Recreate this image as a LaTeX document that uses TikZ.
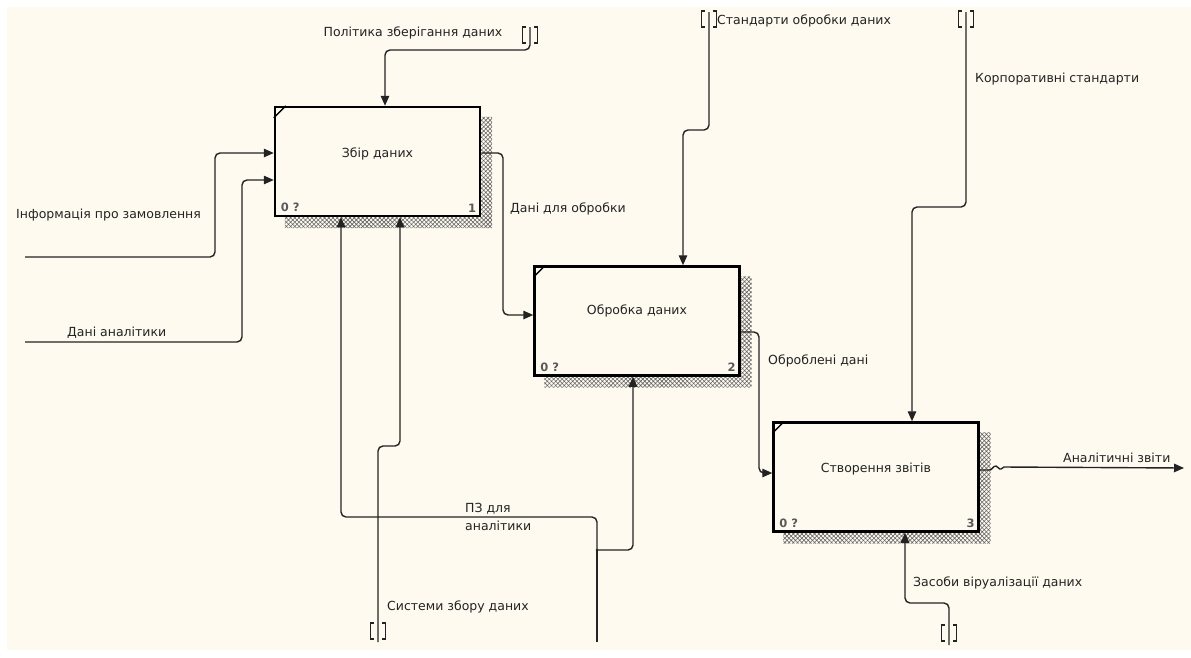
\documentclass[tikz,border=0pt]{standalone}
\usepackage{fontspec}
\setmainfont{DejaVu Sans}
\usetikzlibrary{arrows.meta,patterns.meta}
\definecolor{paper}{RGB}{254,250,240}
\definecolor{ink}{RGB}{35,35,35}

% hatched drop shadow to the right of and below an activity box
\newcommand\boxshadow[1]{%
  \fill[pattern={Hatch[angle=45,distance=3pt,line width=0.6pt]},pattern color=black!60]
    ([yshift=-10pt]#1.north east) -- ++(12pt,0)
    |- ([xshift=10pt,yshift=-12pt]#1.south west) -- ++(0,12pt)
    -- (#1.south east) -- cycle;}
% corner tick in the upper left of an activity box
\newcommand\boxtick[1]{%
  \draw[line width=1.4pt] ([yshift=-12pt]#1.north west) -- ([xshift=12pt]#1.north west);}
% tunnel brackets round an arrow end
\newcommand\tunnel[1]{%
  \draw[tun] ([xshift=-4pt,yshift=8pt]#1) -- ++(-3.5pt,0) -- ++(0,-16pt) -- ++(3.5pt,0);
  \draw[tun] ([xshift=4pt,yshift=8pt]#1) -- ++(3.5pt,0) -- ++(0,-16pt) -- ++(-3.5pt,0);}

\begin{document}
\begin{tikzpicture}[x=1pt,y=-1pt,
  every node/.style={font=\fontsize{12.5}{15}\selectfont,text=ink,inner sep=0pt},
  box/.style={draw=black,line width=2.5pt,fill=paper,minimum width=205pt,minimum height=109pt},
  conn/.style={draw=ink,line width=1.4pt,rounded corners=5pt},
  arr/.style={conn,-{Triangle[length=10pt,width=8.5pt]}},
  tun/.style={draw=ink,line width=1.1pt},
  num/.style={font=\fontsize{11.5}{13}\bfseries\selectfont,text=black!65},
  lbl/.style={anchor=west}]

% page
\useasboundingbox (0,0) rectangle (1191,657);
\fill[white] (0,0) rectangle (1191,657);
\fill[paper] (7,7) rectangle (1191,650);

% activity boxes
\coordinate (p1) at (377.5,161.5);
\coordinate (p2) at (637,321);
\coordinate (p3) at (876,477);
\path (p1) node[minimum width=205pt,minimum height=109pt] (s1) {};
\path (p2) node[minimum width=205pt,minimum height=109pt] (s2) {};
\path (p3) node[minimum width=205pt,minimum height=109pt] (s3) {};
\boxshadow{s1}\boxshadow{s2}\boxshadow{s3}
\node[box] (b1) at (p1) {};
\node[box] (b2) at (p2) {};
\node[box] (b3) at (p3) {};
\boxtick{b1}\boxtick{b2}\boxtick{b3}

\node (n1) at ([yshift=8pt]b1.center) {Збір даних};
\node (n2) at ([yshift=10pt]b2.center) {Обробка даних};
\node (n3) at ([yshift=8pt]b3.center) {Створення звітів};

\foreach \b/\k in {b1/1,b2/2,b3/3}{
  \node[num,anchor=south west] (\b q) at ([xshift=7pt,yshift=5pt]\b.south west) {0 ?};
  \node[num,anchor=south east] (\b k) at ([xshift=-5pt,yshift=5pt]\b.south east) {\k};
}

% free arrow ends and tunnels
\coordinate (in1) at (25,257);
\coordinate (in2) at (25,342);
\coordinate (c1) at (530,27);   \coordinate (t1) at (530,35);
\coordinate (c2) at (709,12);   \coordinate (t2) at (709,19);
\coordinate (c3) at (966,12);   \coordinate (t3) at (966,19);
\coordinate (m1) at (378,642);  \coordinate (t4) at (378,631);
\coordinate (m2) at (597,642);
\coordinate (m3) at (949,645);  \coordinate (t5) at (949,633);
\coordinate (o3) at (1184,468);
\coordinate (j) at (597,550);

% inputs and outputs between boxes
\draw[arr] (in1) -- (215,257) -- (215,153) -- (b1.west |- 0,153);
\draw[arr] (in2) -- (242,342) -- (242,180) -- (b1.west |- 0,180);
\draw[arr] (b1.east |- 0,153) -- (503,153) -- (503,315) -- (b2.west |- 0,315);
\draw[arr] (b2.east |- 0,332) -- (759,332) -- (759,473) -- (b3.west |- 0,473);

% controls
\draw[arr] (c1) -- (530,50) -- (385,50) -- (b1.north -| 385,0);
\draw[arr] (c2) -- (709,130) -- (683,130) -- (b2.north -| 683,0);
\draw[arr] (c3) -- (966,207) -- (912,207) -- (b3.north -| 912,0);

% mechanisms
\draw[arr] (m1) -- (378,446) -- (400,446) -- (b1.south -| 400,0);
\draw[conn] (m2) -- (j);
\draw[arr] (j) -- (597,517) -- (341,517) -- (b1.south -| 341,0);
\draw[arr] (j) -- (633,550) -- (b2.south -| 633,0);
\fill[ink] (j) circle (1.4pt);
\draw[arr] (m3) -- (949,603) -- (905,603) -- (b3.south -| 905,0);

% final output, with a small break mark beside the shadow
\draw[conn,rounded corners=0pt,-{Triangle[length=10pt,width=8.5pt]}]
  (b3.east |- 0,470) -- (990,470) .. controls (992,470) and (993,466) .. (996,466)
  .. controls (998,466) and (999,470) .. (1001,469) -- (1004,467) -- (o3);

\tunnel{t1}\tunnel{t2}\tunnel{t3}\tunnel{t4}\tunnel{t5}

% arrow labels
\node (l1) at (413,33) {Політика зберігання даних};
\node[lbl] (l2) at (717,21) {Стандарти обробки даних};
\node[lbl] (l3) at (975,79) {Корпоративні стандарти};
\node[lbl] (l4) at (16,215) {Інформація про замовлення};
\node[lbl] (l5) at (67,333) {Дані аналітики};
\node[lbl] (l6) at (510,209) {Дані для обробки};
\node[lbl] (l7) at (768,361) {Оброблені дані};
\node[lbl] (l8) at (1063,458) {Аналітичні звіти};
\node[lbl] (l9) at (913,583) {Засоби віруалізації даних};
\node[lbl] (l10) at (387,607) {Системи збору даних};
\node[lbl,align=left,font=\fontsize{12.5}{18}\selectfont] (l11) at (465,517) {ПЗ для\\аналітики};

\end{tikzpicture}
\end{document}
